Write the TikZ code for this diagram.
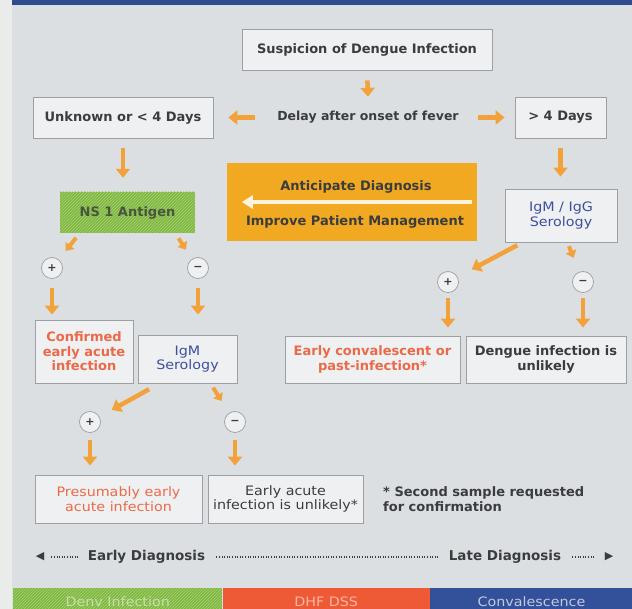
\documentclass[tikz,border=0pt]{standalone}
\usepackage{fontspec}
\setmainfont{DejaVu Sans}
\newfontfamily\wideface[FakeStretch=1.1]{DejaVu Sans}
\usetikzlibrary{arrows.meta,patterns}

\definecolor{paper}{HTML}{DCDFE2}
\definecolor{leftStrip}{HTML}{EAEBEB}
\definecolor{bannerBlue}{HTML}{2F4A8E}
\definecolor{panelFill}{HTML}{EEF0F2}
\definecolor{edgeGray}{HTML}{9C9FA3}
\definecolor{arrowOrange}{HTML}{F2A23A}
\definecolor{txtRed}{HTML}{EA6A48}
\definecolor{txtBlue}{HTML}{3E4F9B}
\definecolor{txtDark}{HTML}{3B3C3E}
\definecolor{nsGreen}{HTML}{80B940}
\definecolor{mgmtOrange}{HTML}{F2A922}
\definecolor{dssRed}{HTML}{EE5A36}
\definecolor{convBlue}{HTML}{33509A}

\newcommand{\heavyfont}{\bfseries\fontsize{13}{14.5}\selectfont}
\newcommand{\plainfont}{\wideface\fontsize{13}{14.5}\selectfont}

\begin{document}
\begin{tikzpicture}[x=1pt,y=-1pt,
  panel/.style={draw=edgeGray,line width=0.8pt,fill=panelFill,align=center,inner sep=0pt},
  flow/.style={draw=arrowOrange,line width=4.5pt,-{Triangle[length=9pt,width=14pt]}},
  stub/.style={draw=arrowOrange,line width=4pt,-{Triangle[length=7pt,width=11pt]}},
  backflow/.style={draw=white!85!mgmtOrange,line width=4pt,-{Triangle[length=11pt,width=13pt]}},
  sign/.style={circle,draw=edgeGray,line width=0.7pt,fill=panelFill,minimum size=21pt,inner sep=0pt,
    font=\bfseries\fontsize{11}{11}\selectfont,text=txtDark},
  hatched/.style={fill=#1,postaction={pattern=north east lines,pattern color=white!30!#1}},
  timeline/.style={draw=txtDark,line width=1.3pt,dash pattern=on 1pt off 1.6pt}]

\useasboundingbox (0,0) rectangle (632,609);
\fill[leftStrip] (0,0) rectangle (12,609);
\fill[paper] (12,0) rectangle (632,609);
\fill[bannerBlue] (12,0) rectangle (632,5);

% first decision
\node[panel,minimum width=250pt,minimum height=41pt,font=\heavyfont,text=txtDark] (suspicion) at (367,49.5) {Suspicion of Dengue Infection};
\node[minimum width=190pt,minimum height=41pt,inner sep=0pt,font=\bfseries\fontsize{12.5}{14}\selectfont,text=txtDark] (delay) at (368,117.5) {Delay after onset of fever};
\node[panel,minimum width=180pt,minimum height=41pt,font=\heavyfont,text=txtDark] (unknown) at (123,117.5) {Unknown or < 4 Days};
\node[panel,minimum width=91pt,minimum height=41pt,font=\heavyfont,text=txtDark] (days) at (560.5,117.5) {> 4 Days};

\draw[flow,shorten <=10pt] (suspicion.south) -- (delay.north);
\draw[flow,shorten <=18pt,shorten >=15pt] (delay.west) -- (unknown.east);
\draw[flow,shorten <=15pt,shorten >=10pt] (delay.east) -- (days.west);

% tests
\node[hatched=nsGreen,minimum width=135pt,minimum height=41pt,inner sep=0pt,font=\heavyfont,text=txtDark!80!nsGreen] (ns1) at (127.5,212.5) {NS 1 Antigen};
\node[fill=mgmtOrange,minimum width=250pt,minimum height=78pt,inner sep=0pt] (antic) at (352,202) {};
\node[font=\heavyfont,text=txtDark] (anticTop) at (356,187) {Anticipate Diagnosis};
\node[font=\heavyfont,text=txtDark] (anticBot) at (355,222) {Improve Patient Management};
\node[panel,minimum width=112pt,minimum height=53pt,font=\plainfont,text=txtBlue] (igg) at (561,215.5) {IgM / IgG\\Serology};

\draw[flow,shorten <=10pt,shorten >=14pt] (unknown.south) -- (unknown.south |- ns1.north);
\draw[flow,shorten <=10pt,shorten >=12pt] (days.south) -- (days.south |- igg.north);
\draw[backflow,shorten <=5pt,shorten >=15pt] (antic.east) -- (antic.west);

% results of NS 1
\node[sign] (nsPos) at (52,268) {+};
\node[sign] (nsNeg) at (198,268) {−};
\draw[stub,shorten <=6pt,shorten >=11pt] ([xshift=20pt]ns1.south west) -- (nsPos);
\draw[stub,shorten <=6pt,shorten >=11pt] ([xshift=-20pt]ns1.south east) -- (nsNeg);

\node[panel,minimum width=98pt,minimum height=63pt,font=\heavyfont,text=txtRed] (confirmed) at (84,351.5) {Confirmed\\early acute\\infection};
\node[panel,minimum width=99pt,minimum height=48pt,font=\plainfont,text=txtBlue] (igmSer) at (187.5,359) {IgM\\Serology};
\draw[flow,shorten <=9pt,shorten >=5pt] (nsPos.south) -- (nsPos.south |- confirmed.north);
\draw[flow,shorten <=9pt,shorten >=20pt] (nsNeg.south) -- (nsNeg.south |- igmSer.north);

% results of IgM / IgG
\node[sign] (iggPos) at (448,282) {+};
\node[sign] (iggNeg) at (583,282) {−};
\draw[flow,shorten <=6pt,shorten >=16pt] ([xshift=18pt]igg.south west) -- (iggPos);
\draw[stub,shorten <=4pt,shorten >=15pt] ([xshift=-50pt]igg.south east) -- (iggNeg);

\node[panel,minimum width=175pt,minimum height=47pt,font=\heavyfont,text=txtRed] (convalescent) at (372.5,359.5) {Early convalescent or\\past-infection*};
\node[panel,minimum width=160pt,minimum height=47pt,font=\heavyfont,text=txtDark] (unlikely) at (546,359.5) {Dengue infection is\\unlikely};
\draw[flow,shorten <=5pt,shorten >=8pt] (iggPos.south) -- (iggPos.south |- convalescent.north);
\draw[flow,shorten <=5pt,shorten >=8pt] (iggNeg.south) -- (iggNeg.south |- unlikely.north);

% results of IgM
\node[sign] (igmPos) at (90,422) {+};
\node[sign] (igmNeg) at (235,422) {−};
\draw[flow,shorten <=12pt,shorten >=14pt] ([xshift=22pt]igmSer.south west) -- (igmPos);
\draw[stub,shorten <=5pt,shorten >=14pt] ([xshift=-27pt]igmSer.south east) -- (igmNeg);

\node[panel,minimum width=167pt,minimum height=48pt,font=\plainfont,text=txtRed] (presumably) at (118.5,499) {Presumably early\\acute infection};
\node[panel,minimum width=155pt,minimum height=48pt,font=\plainfont,text=txtDark] (acuteNo) at (285.5,499) {Early acute\\infection is unlikely*};
\draw[flow,shorten <=7pt,shorten >=9pt] (igmPos.south) -- (igmPos.south |- presumably.north);
\draw[flow,shorten <=7pt,shorten >=9pt] (igmNeg.south) -- (igmNeg.south |- acuteNo.north);

\node[anchor=west,align=left,inner sep=0pt,font=\heavyfont,text=txtDark] (note) at (383,499) {* Second sample requested\\for confirmation};

% time line
\node[inner sep=0pt,font=\fontsize{11}{11}\selectfont,text=txtDark] (leftTip) at (40,557) {◀};
\node[inner sep=0pt,font=\bfseries\fontsize{13.5}{15}\selectfont,text=txtDark] (early) at (146.5,557) {Early Diagnosis};
\node[inner sep=0pt,font=\bfseries\fontsize{13.5}{15}\selectfont,text=txtDark] (late) at (505,557) {Late Diagnosis};
\node[inner sep=0pt,font=\fontsize{11}{11}\selectfont,text=txtDark] (rightTip) at (609,557) {▶};
\draw[timeline,shorten <=7pt,shorten >=10pt] (leftTip.east) -- (early.west);
\draw[timeline,shorten <=11pt,shorten >=11pt] (early.east) -- (late.west);
\draw[timeline,shorten <=11pt,shorten >=9pt] (late.east) -- (rightTip.west);

% phases
\node[hatched=nsGreen,minimum width=209pt,minimum height=27pt,inner sep=0pt,anchor=north west,font=\plainfont,text=white!55!nsGreen] (denv) at (13,588) {Denv Infection};
\node[fill=dssRed,minimum width=207pt,minimum height=27pt,inner sep=0pt,anchor=north west,font=\plainfont,text=white!55!dssRed] (dss) at (denv.north east) {DHF DSS};
\node[fill=convBlue,minimum width=203pt,minimum height=27pt,inner sep=0pt,anchor=north west,font=\plainfont,text=white!70!convBlue] (conv) at (dss.north east) {Convalescence};
\end{tikzpicture}
\end{document}
